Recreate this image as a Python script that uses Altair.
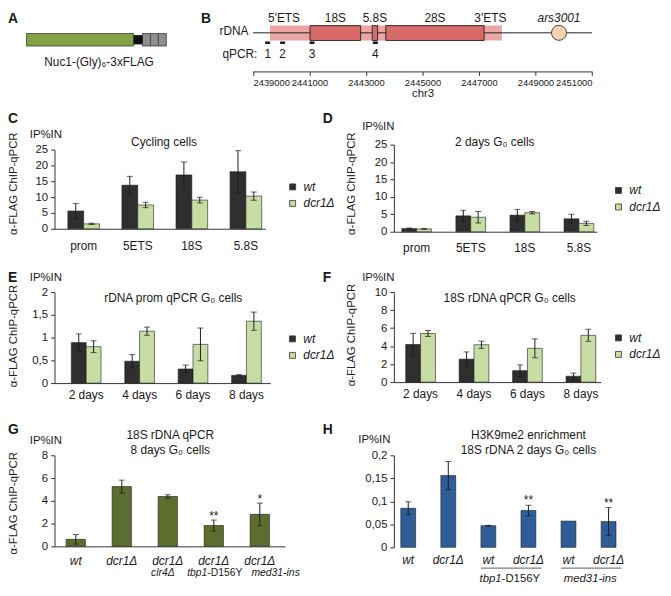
import altair as alt
import pandas as pd

FONT = "Liberation Sans"
INK = "#1a1a1a"
AXC = "#333333"
WT_COLOR = "#2f2f2f"
DCR_COLOR = "#c8dda4"
GENO = ["wt", "dcr1Δ"]

# ---------------- data ----------------
construct_part = ["Nuc1", "(Gly)6", "FLAG", "FLAG", "FLAG"]
construct_start = [0, 108, 117, 125, 133]
construct_end = [108, 117, 125, 133, 141]

chr_extent = [2439000, 2451000]
rdna_unit = [2439600, 2447810]
rrna_name = ["18S", "5.8S", "28S"]
rrna_start = [2441020, 2443220, 2443700]
rrna_end = [2442810, 2443410, 2447180]
feature_label = ["5'ETS", "18S", "5.8S", "28S", "3'ETS"]
feature_pos = [2440100, 2441915, 2443315, 2445440, 2447400]
ars_label = ["ars3001"]
ars_pos = [2449830]
qpcr_id = ["1", "2", "3", "4"]
qpcr_pos = [2439520, 2440050, 2441090, 2443330]
chr_ticks = [2439000, 2441000, 2443000, 2445000, 2447000, 2449000, 2451000]

C_cats = ["prom", "5ETS", "18S", "5.8S"]
C_wt = [5.6, 13.75, 17.0, 18.0]
C_wt_err = [2.4, 2.8, 4.05, 6.65]
C_dcr = [1.55, 7.5, 9.05, 10.3]
C_dcr_err = [0.2, 0.85, 0.9, 1.3]

D_cats = ["prom", "5ETS", "18S", "5.8S"]
D_wt = [0.9, 4.55, 4.75, 3.7]
D_wt_err = [0.15, 1.6, 1.65, 1.3]
D_dcr = [0.8, 4.15, 5.45, 2.4]
D_dcr_err = [0.1, 1.65, 0.35, 0.6]

E_cats = ["2 days", "4 days", "6 days", "8 days"]
E_wt = [0.89, 0.48, 0.31, 0.17]
E_wt_err = [0.19, 0.145, 0.085, 0.015]
E_dcr = [0.8, 1.14, 0.85, 1.36]
E_dcr_err = [0.13, 0.09, 0.36, 0.2]

F_cats = ["2 days", "4 days", "6 days", "8 days"]
F_wt = [4.18, 2.55, 1.27, 0.65]
F_wt_err = [1.24, 0.8, 0.62, 0.35]
F_dcr = [5.4, 4.15, 3.75, 5.2]
F_dcr_err = [0.33, 0.4, 1.05, 0.67]

G_cats = ["wt", "dcr1Δ", "dcr1Δ clr4Δ", "dcr1Δ tbp1-D156Y", "dcr1Δ med31-ins"]
G_vals = [0.62, 5.25, 4.38, 1.83, 2.81]
G_err = [0.42, 0.57, 0.15, 0.48, 0.99]
G_stars = ["", "", "", "**", "*"]
G_line1 = ["wt", "dcr1Δ", "dcr1Δ", "dcr1Δ", "dcr1Δ"]
G_line2_gene = ["", "", "clr4Δ", "tbp1", "med31-ins"]
G_line2_allele = ["", "", "", "-D156Y", ""]

H_cats = ["wt", "dcr1Δ", "tbp1 wt", "tbp1 dcr1Δ", "med31 wt", "med31 dcr1Δ"]
H_labels = ["wt", "dcr1Δ", "wt", "dcr1Δ", "wt", "dcr1Δ"]
H_vals = [0.085, 0.156, 0.047, 0.080, 0.057, 0.056]
H_err = [0.014, 0.0305, 0.001, 0.0115, 0.0, 0.0305]
H_stars = ["", "", "", "**", "", "**"]
H_group_first = ["tbp1 wt", "med31 wt"]
H_group_last = ["tbp1 dcr1Δ", "med31 dcr1Δ"]
H_group_gene = ["tbp1", "med31-ins"]
H_group_allele = ["-D156Y", ""]

ONE = pd.DataFrame({"k": [0]})


def txt(text, x, y, size=12, weight="normal", style="normal", align="center",
        baseline="middle", angle=0):
    return alt.Chart(ONE).mark_text(
        text=text, font=FONT, fontSize=size, fontWeight=weight, fontStyle=style,
        align=align, baseline=baseline, angle=angle, color=INK
    ).encode(x=alt.value(x), y=alt.value(y))


def letter(t, x, y):
    return txt(t, x, y, size=14, weight="bold", align="left", baseline="top")


def y_axis(ticks, title, tx, ty, comma=False):
    kw = dict(values=ticks, grid=False, tickSize=4, labelPadding=3,
              labelFontSize=11.5, labelFont=FONT, labelColor=INK,
              domainColor=AXC, tickColor=AXC)
    if title:
        kw.update(title=title, titleX=tx, titleY=ty, titleAngle=270,
                  titleAlign="center", titleBaseline="middle", titleFontSize=11.5,
                  titleFontWeight="normal", titleFont=FONT, titleColor=INK)
    else:
        kw.update(title=None)
    if comma:
        kw["labelExpr"] = "replace(format(datum.value, '~g'), '.', ',')"
    return alt.Axis(**kw)


# ---------------- panel A ----------------
dfA = pd.DataFrame({"part": construct_part, "start": construct_start, "end": construct_end})
xA = alt.X("start:Q", scale=alt.Scale(domain=[0, 141], range=[-28.3, 113], nice=False, zero=False), axis=None)
colA = alt.Color("part:N", scale=alt.Scale(domain=["Nuc1", "(Gly)6", "FLAG"],
                                           range=["#82a343", "#111111", "#8e8e8e"]), legend=None)
A_body = alt.Chart(dfA).transform_filter("datum.part != '(Gly)6'").mark_rect(
    stroke="#3c3c3c", strokeWidth=0.8).encode(x=xA, x2="end:Q", color=colA,
                                              y=alt.value(22.7), y2=alt.value(35.3))
A_link = alt.Chart(dfA).transform_filter("datum.part == '(Gly)6'").mark_rect().encode(
    x=xA, x2="end:Q", color=colA, y=alt.value(24.3), y2=alt.value(33.7))
panelA = alt.layer(
    A_body, A_link,
    txt("Nuc1-(Gly)₆-3xFLAG", 45, 52, size=12),
    letter("A", -47, 1),
).properties(width=100, height=74)

# ---------------- panel B ----------------
bscale = alt.Scale(domain=chr_extent, range=[-142.4, 200.3], nice=False, zero=False)
baxis = alt.Axis(values=chr_ticks, format="d", title="chr3", tickSize=4, labelFontSize=9.5,
                 labelFont=FONT, labelColor=INK, titleFont=FONT, titleFontSize=11.5,
                 titleFontWeight="normal", titleColor=INK, labelPadding=2, titlePadding=1,
                 grid=False, domainColor=AXC, tickColor=AXC)


def bx(field):
    return alt.X(field + ":Q", scale=bscale, axis=baxis)


dfB_line = pd.DataFrame({"start": [chr_extent[0]], "end": [chr_extent[1]]})
dfB_unit = pd.DataFrame({"start": [rdna_unit[0]], "end": [rdna_unit[1]]})
dfB_rrna = pd.DataFrame({"name": rrna_name, "start": rrna_start, "end": rrna_end})
dfB_feat = pd.DataFrame({"label": feature_label, "pos": feature_pos})
dfB_ars = pd.DataFrame({"label": ars_label, "pos": ars_pos})
dfB_q = pd.DataFrame({"id": qpcr_id, "pos": qpcr_pos})

panelB = alt.layer(
    alt.Chart(dfB_unit).mark_rect(fill="#eba6a4").encode(
        x=bx("start"), x2="end:Q", y=alt.value(14.7), y2=alt.value(29.7)),
    alt.Chart(dfB_line).mark_rule(color="#222222", strokeWidth=1).encode(
        x=bx("start"), x2="end:Q", y=alt.value(22)),
    alt.Chart(dfB_rrna).mark_rect(fill="#d86b69", stroke="#222222", strokeWidth=0.9).encode(
        x=bx("start"), x2="end:Q", y=alt.value(14.7), y2=alt.value(29.7)),
    alt.Chart(dfB_ars).mark_point(shape="circle", filled=True, fill="#f9d3ae", stroke="#333333",
                                  strokeWidth=0.9, size=230, opacity=1).encode(
        x=bx("pos"), y=alt.value(22)),
    alt.Chart(dfB_feat).mark_text(font=FONT, fontSize=12, color=INK).encode(
        x=bx("pos"), text="label:N", y=alt.value(7.5)),
    alt.Chart(dfB_ars).mark_text(font=FONT, fontSize=12, fontStyle="italic", color=INK).encode(
        x=bx("pos"), text="label:N", y=alt.value(7.5)),
    alt.Chart(dfB_q).mark_rule(color="#111111", strokeWidth=2.5, xOffset=-2.5, x2Offset=2.5).encode(
        x=bx("pos"), x2="pos:Q", y=alt.value(32)),
    alt.Chart(dfB_q).mark_text(font=FONT, fontSize=12, color=INK).encode(
        x=bx("pos"), text="id:N", y=alt.value(43.7)),
    txt("rDNA", -147, 20.3, align="right"),
    txt("qPCR:", -138, 43.7, align="right"),
    letter("B", -195, 1),
).properties(width=100, height=61)


# ---------------- grouped bar panels (C-F) ----------------
def grouped_panel(cats, wt, wt_err, dcr, dcr_err, L):
    n = len(cats)
    df = pd.DataFrame({
        "cat": cats + cats,
        "geno": ["wt"] * n + ["dcr1Δ"] * n,
        "val": wt + dcr,
        "err": wt_err + dcr_err,
    })
    df["lo"] = df["val"] - df["err"]
    df["hi"] = df["val"] + df["err"]
    xs = alt.Scale(paddingInner=L["pi"], paddingOuter=L["po"], align=L["al"])
    xaxis = alt.Axis(title=None, labelAngle=0, ticks=False, labelPadding=L["lp"],
                     labelFontSize=12, labelFont=FONT, labelColor=INK, domainColor=AXC)
    x = alt.X("cat:N", sort=cats, scale=xs, axis=xaxis)
    xo = alt.XOffset("geno:N", sort=GENO, scale=alt.Scale(paddingInner=0, paddingOuter=0))
    ys = alt.Scale(domain=[0, L["ymax"]], range=[L["h"], L["top"]], nice=False, zero=False)
    ya = y_axis(L["yticks"], "α-FLAG ChIP-qPCR", L["tx"], L["ty"], L.get("comma", False))
    legend = alt.Legend(title=None, orient="none", legendX=L["lx"], legendY=L["ly"],
                        symbolType="square", symbolSize=36, symbolStrokeColor="#333333",
                        symbolStrokeWidth=0.8, labelFontStyle="italic", labelFontSize=12,
                        labelFont=FONT, labelColor=INK, rowPadding=4.7, padding=0, labelOffset=5)
    color = alt.Color("geno:N", sort=GENO, scale=alt.Scale(domain=GENO, range=[WT_COLOR, DCR_COLOR]),
                      legend=legend)
    base = alt.Chart(df)
    bars = base.mark_bar(stroke="#1c1c1c", strokeWidth=0.6).encode(
        x=x, xOffset=xo, y=alt.Y("val:Q", scale=ys, axis=ya), color=color)
    err = base.mark_rule(color="#1c1c1c", strokeWidth=1).encode(
        x=x, xOffset=xo, y=alt.Y("lo:Q", scale=ys, axis=ya), y2="hi:Q")
    cap_lo = base.mark_tick(color="#1c1c1c", size=6, thickness=1).encode(
        x=x, xOffset=xo, y=alt.Y("lo:Q", scale=ys, axis=ya))
    cap_hi = base.mark_tick(color="#1c1c1c", size=6, thickness=1).encode(
        x=x, xOffset=xo, y=alt.Y("hi:Q", scale=ys, axis=ya))
    return alt.layer(
        bars, err, cap_lo, cap_hi,
        txt(L["title"], L["title_x"], L["title_y"], size=12),
        txt("IP%IN", L["ip_x"], L["ip_y"], size=11.5, align="left"),
        letter(L["letter"], L["let_x"], L["let_y"]),
    ).properties(width=L["w"], height=L["h"])


panelC = grouped_panel(C_cats, C_wt, C_wt_err, C_dcr, C_dcr_err, dict(
    w=213, h=85, top=5, ymax=25, yticks=[0, 5, 10, 15, 20, 25],
    pi=0.4147, po=0.156, al=0.79, lp=12, tx=-41, ty=39,
    title="Cycling cells", title_x=110.7, title_y=-3, ip_x=-25, ip_y=-9.7,
    letter="C", let_x=-47, let_y=-33, lx=234.7, ly=36.7))

panelD = grouped_panel(D_cats, D_wt, D_wt_err, D_dcr, D_dcr_err, dict(
    w=205, h=88, top=0, ymax=25, yticks=[0, 5, 10, 15, 20, 25],
    pi=0.4513, po=0.1006, al=0.727, lp=11, tx=-43, ty=39,
    title="2 days G₀ cells", title_x=102, title_y=-3, ip_x=-32, ip_y=-18,
    letter="D", let_x=-72, let_y=-33, lx=221, ly=40.3))

panelE = grouped_panel(E_cats, E_wt, E_wt_err, E_dcr, E_dcr_err, dict(
    w=218, h=92, top=0, ymax=2, yticks=[0, 0.5, 1, 1.5, 2], comma=True,
    pi=0.4444, po=0.2407, al=0.654, lp=6.7, tx=-41, ty=44,
    title="rDNA prom qPCR G₀ cells", title_x=120, title_y=6.3, ip_x=-25, ip_y=-14,
    letter="E", let_x=-47, let_y=-21, lx=234.5, ly=41.3))

panelF = grouped_panel(F_cats, F_wt, F_wt_err, F_dcr, F_dcr_err, dict(
    w=209, h=91, top=0, ymax=10, yticks=[0, 2, 4, 6, 8, 10],
    pi=0.4444, po=0.157, al=0.706, lp=6.7, tx=-43, ty=43,
    title="18S rDNA qPCR G₀ cells", title_x=117, title_y=6.3, ip_x=-32, ip_y=-14,
    letter="F", let_x=-72, let_y=-21, lx=221, ly=40.3))

# ---------------- panel G ----------------
dfG = pd.DataFrame({"cat": G_cats, "val": G_vals, "err": G_err, "star": G_stars,
                    "l1": G_line1, "l2g": G_line2_gene, "l2a": G_line2_allele})
dfG["lo"] = dfG["val"] - dfG["err"]
dfG["hi"] = dfG["val"] + dfG["err"]
xG = alt.X("cat:N", sort=G_cats,
           scale=alt.Scale(paddingInner=0.5806, paddingOuter=0.2957, align=0.427),
           axis=alt.Axis(title=None, labels=False, ticks=False, domainColor=AXC))
ysG = alt.Scale(domain=[0, 8], range=[104, 12], nice=False, zero=False)
yaG = y_axis([0, 2, 4, 6, 8], "α-FLAG ChIP-qPCR", -41, 60)
bG = alt.Chart(dfG)


def g_line2(cat_idx, field, style, align, dx):
    return bG.transform_filter(alt.datum.cat == G_cats[cat_idx]).mark_text(
        font=FONT, fontSize=10.5, fontStyle=style, color=INK, align=align, dx=dx).encode(
        x=xG, y=alt.value(131), text=field + ":N")


panelG = alt.layer(
    bG.mark_bar(color="#5b6e2d", stroke="#1c1c1c", strokeWidth=0.6).encode(
        x=xG, y=alt.Y("val:Q", scale=ysG, axis=yaG)),
    bG.mark_rule(color="#1c1c1c").encode(x=xG, y=alt.Y("lo:Q", scale=ysG, axis=yaG), y2="hi:Q"),
    bG.mark_tick(color="#1c1c1c", size=6, thickness=1).encode(x=xG, y=alt.Y("lo:Q", scale=ysG, axis=yaG)),
    bG.mark_tick(color="#1c1c1c", size=6, thickness=1).encode(x=xG, y=alt.Y("hi:Q", scale=ysG, axis=yaG)),
    bG.mark_text(font=FONT, fontSize=12, color=INK, baseline="alphabetic").encode(
        x=xG, y=alt.Y("hi:Q", scale=ysG, axis=yaG), text="star:N"),
    bG.mark_text(font=FONT, fontSize=12, fontStyle="italic", color=INK).encode(
        x=xG, y=alt.value(119), text="l1:N"),
    g_line2(2, "l2g", "italic", "center", -5),
    g_line2(3, "l2g", "italic", "right", -6.5),
    g_line2(3, "l2a", "normal", "left", -6.5),
    g_line2(4, "l2g", "italic", "left", -8.5),
    txt("18S rDNA qPCR", 117, -8.3),
    txt("8 days G₀ cells", 117, 6.7),
    txt("IP%IN", -25, -2, size=11.5, align="left"),
    letter("G", -47, -21),
).properties(width=233, height=104)

# ---------------- panel H ----------------
dfH = pd.DataFrame({"cat": H_cats, "val": H_vals, "err": H_err, "star": H_stars, "lab": H_labels})
dfH["lo"] = dfH["val"] - dfH["err"]
dfH["hi"] = dfH["val"] + dfH["err"]
dfHg = pd.DataFrame({"first": H_group_first, "last": H_group_last,
                     "gene": H_group_gene, "allele": H_group_allele})
xHs = alt.Scale(domain=H_cats, paddingInner=0.6296, paddingOuter=0.2037, align=0.424)
xH = alt.X("cat:N", sort=H_cats, scale=xHs,
           axis=alt.Axis(title=None, labels=False, ticks=False, domainColor=AXC))
ysH = alt.Scale(domain=[0, 0.2], range=[105, 12], nice=False, zero=False)
yaH = y_axis([0, 0.05, 0.1, 0.15, 0.2], None, 0, 0, comma=True)
bH = alt.Chart(dfH)
bHe = alt.Chart(dfH).transform_filter("datum.err > 0")
panelH = alt.layer(
    bH.mark_bar(color="#2f5d97", stroke="#1c1c1c", strokeWidth=0.6).encode(
        x=xH, y=alt.Y("val:Q", scale=ysH, axis=yaH)),
    bHe.mark_rule(color="#1c1c1c").encode(x=xH, y=alt.Y("lo:Q", scale=ysH, axis=yaH), y2="hi:Q"),
    bHe.mark_tick(color="#1c1c1c", size=6, thickness=1).encode(x=xH, y=alt.Y("lo:Q", scale=ysH, axis=yaH)),
    bHe.mark_tick(color="#1c1c1c", size=6, thickness=1).encode(x=xH, y=alt.Y("hi:Q", scale=ysH, axis=yaH)),
    bH.mark_text(font=FONT, fontSize=12, color=INK, baseline="alphabetic", dy=-1).encode(
        x=xH, y=alt.Y("hi:Q", scale=ysH, axis=yaH), text="star:N"),
    bH.mark_text(font=FONT, fontSize=12, fontStyle="italic", color=INK).encode(
        x=xH, y=alt.value(118), text="lab:N"),
    alt.Chart(dfHg).mark_rule(color="#333333", strokeWidth=0.8, xOffset=-7.5, x2Offset=13).encode(
        x=alt.X("first:N", scale=xHs, axis=None), x2="last:N", y=alt.value(126)),
    alt.Chart(dfHg).transform_filter("datum.allele != ''").mark_text(
        font=FONT, fontSize=11.5, fontStyle="italic", color=INK, align="right", dx=13.4).encode(
        x=alt.X("first:N", scale=xHs, axis=None), y=alt.value(137), text="gene:N"),
    alt.Chart(dfHg).transform_filter("datum.allele != ''").mark_text(
        font=FONT, fontSize=11.5, color=INK, align="left", dx=13.4).encode(
        x=alt.X("first:N", scale=xHs, axis=None), y=alt.value(137), text="allele:N"),
    alt.Chart(dfHg).transform_filter("datum.allele == ''").mark_text(
        font=FONT, fontSize=11.5, fontStyle="italic", color=INK, dx=22).encode(
        x=alt.X("first:N", scale=xHs, axis=None), y=alt.value(137), text="gene:N"),
    txt("H3K9me2 enrichment", 136, -8.3),
    txt("18S rDNA 2 days G₀ cells", 136, 7),
    txt("IP%IN", -36, -3, size=11.5, align="left"),
    letter("H", -72, -21),
).properties(width=234, height=105)

chart = alt.concat(
    panelA, panelB, panelC, panelD, panelE, panelF, panelG, panelH,
    columns=2, spacing={"row": 61, "column": 110}, bounds="flush", align="each",
).resolve_scale(color="independent", xOffset="independent").properties(
    autosize=alt.AutoSizeParams(type="none"),
    padding={"left": 47, "top": 0, "right": 615, "bottom": 580},
    background="white",
).configure(font=FONT).configure_view(strokeWidth=0)

chart.save("out.html", embed_options={"renderer": "svg", "actions": False})
